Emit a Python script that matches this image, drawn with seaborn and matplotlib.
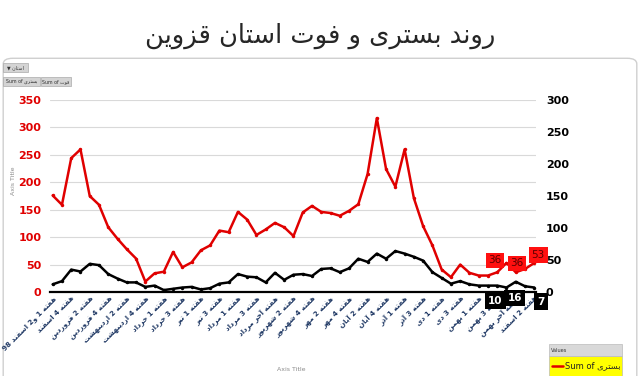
import pandas as pd
import seaborn as sns
import matplotlib.pyplot as plt
from matplotlib.patches import FancyBboxPatch, Rectangle
from matplotlib.lines import Line2D

# every other week carries a label
week_labels = [
    'هفته 1 و2 اسفند 98', 'هفته 4 اسفند', 'هفته 2 فروردین', 'هفته 4 فروردین',
    'هفته 2 اردیبهشت', 'هفته 4 اردیبهشت', 'هفته 1 خرداد', 'هفته 3 خرداد',
    'هفته 1 تیر', 'هفته 3 تیر', 'هفته 1 مرداد', 'هفته 3 مرداد',
    'هفته آخر مرداد', 'هفته 2 شهریور', 'هفته 4 شهریور', 'هفته 2 مهر',
    'هفته 4 مهر', 'هفته 2 آبان', 'هفته 4 آبان', 'هفته 1 آذر',
    'هفته 3 آذر', 'هفته 1 دی', 'هفته 3 دی', 'هفته 1 بهمن',
    'هفته 3 بهمن', 'هفته آخر بهمن', 'هفته 2 اسفند',
]

# بستری (left axis)
hospitalized = [176, 159, 244, 260, 175, 159, 118, 97, 78, 61,
                19, 34, 37, 73, 45, 54, 76, 85, 112, 109,
                146, 132, 104, 114, 126, 118, 102, 145, 157, 146,
                144, 139, 148, 160, 215, 317, 224, 192, 260, 171,
                120, 85, 41, 27, 50, 35, 30, 30, 36, 53,
                36, 42, 53]

# فوت (right axis)
deaths = [12, 17, 35, 32, 44, 42, 28, 21, 15, 15,
          8, 10, 3, 5, 7, 8, 4, 6, 13, 15,
          28, 24, 23, 15, 30, 19, 27, 28, 25, 36,
          37, 31, 37, 52, 47, 60, 52, 64, 60, 55,
          49, 31, 22, 13, 17, 12, 10, 10, 10, 7,
          16, 9, 7]

labelled_points = [48, 50, 52]

# simple persian shaping: matplotlib does not join arabic letters itself
FORMS = {
    'ا': ('\uFE8D', '\uFE8E'), 'آ': ('\uFE81', '\uFE82'),
    'ب': ('\uFE8F', '\uFE90', '\uFE91', '\uFE92'),
    'ت': ('\uFE95', '\uFE96', '\uFE97', '\uFE98'),
    'خ': ('\uFEA5', '\uFEA6', '\uFEA7', '\uFEA8'),
    'د': ('\uFEA9', '\uFEAA'), 'ذ': ('\uFEAB', '\uFEAC'),
    'ر': ('\uFEAD', '\uFEAE'), 'ز': ('\uFEAF', '\uFEB0'),
    'س': ('\uFEB1', '\uFEB2', '\uFEB3', '\uFEB4'),
    'ش': ('\uFEB5', '\uFEB6', '\uFEB7', '\uFEB8'),
    'ف': ('\uFED1', '\uFED2', '\uFED3', '\uFED4'),
    'ق': ('\uFED5', '\uFED6', '\uFED7', '\uFED8'),
    'م': ('\uFEE1', '\uFEE2', '\uFEE3', '\uFEE4'),
    'ن': ('\uFEE5', '\uFEE6', '\uFEE7', '\uFEE8'),
    'ه': ('\uFEE9', '\uFEEA', '\uFEEB', '\uFEEC'),
    'و': ('\uFEED', '\uFEEE'),
    'ی': ('\uFEEF', '\uFEF0', '\uFEF3', '\uFEF4'),
    'ي': ('\uFEEF', '\uFEF0', '\uFEF3', '\uFEF4'),
}


def shape_word(w):
    out = []
    for i, c in enumerate(w):
        f = FORMS.get(c)
        if f is None:
            out.append(c)
            continue
        prev = w[i - 1] if i > 0 else ''
        nxt = w[i + 1] if i + 1 < len(w) else ''
        jp = prev in FORMS and len(FORMS[prev]) == 4
        jn = len(f) == 4 and nxt in FORMS
        if jp and jn:
            out.append(f[3])
        elif jp:
            out.append(f[1])
        elif jn:
            out.append(f[2])
        else:
            out.append(f[0])
    return ''.join(out)


def fa(s):
    vis = []
    for w in reversed(s.split(' ')):
        if any(c in FORMS for c in w):
            vis.append(shape_word(w)[::-1])
        else:
            vis.append(w)
    return ' '.join(vis)


df = pd.DataFrame({'week': range(len(hospitalized)),
                   'hosp': hospitalized, 'death': deaths})

sns.set_style('white')
plt.rcParams['font.family'] = ['DejaVu Sans']

fig = plt.figure(figsize=(6.4, 3.76), dpi=100)

# chart frame (behind the axes)
fig.patches.append(FancyBboxPatch((0.005, -0.05), 0.99, 0.895, transform=fig.transFigure,
                                  boxstyle='round,pad=0,rounding_size=0.015',
                                  fc='white', ec='#cfcfcf', lw=1, zorder=-5))

fig.text(0.5, 0.905, fa('روند بستری و فوت استان قزوین'), ha='center', va='center',
         fontsize=18.5)

ax = fig.add_axes([0.078, 0.2234, 0.7597, 0.5106])
ax.patch.set_alpha(0)
sns.lineplot(data=df, x='week', y='hosp', ax=ax, color='#e00000', lw=1.8,
             marker='o', markersize=2.5, markeredgewidth=0)
ax2 = ax.twinx()
sns.lineplot(data=df, x='week', y='death', ax=ax2, color='black', lw=1.8,
             marker='o', markersize=2.5, markeredgewidth=0)

ax.set_xlim(-0.3, 52.2)
ax.set_ylim(0, 350)
ax.set_yticks(range(0, 351, 50))
ax2.set_ylim(0, 300)
ax2.set_yticks(range(0, 301, 50))
ax.grid(axis='y', color='#d9d9d9', lw=0.8)
ax.grid(axis='x', visible=False)
ax.set_xlabel('')
ax.set_ylabel('')
ax2.set_ylabel('')

ax.set_xticks(range(0, 53, 2))
ax.set_xticklabels([fa(l) for l in week_labels], rotation=45, ha='right',
                   rotation_mode='anchor', fontsize=5.1, fontweight='bold', color='#1f3864')
ax.tick_params(axis='x', length=0, pad=2)
ax.tick_params(axis='y', length=0, labelcolor='#e00000', labelsize=8, pad=6)
ax2.tick_params(axis='y', length=0, labelcolor='black', labelsize=8, pad=7)
plt.setp(ax.get_yticklabels(), fontweight='bold')
plt.setp(ax2.get_yticklabels(), fontweight='bold')

for s in ['top', 'left', 'right']:
    ax.spines[s].set_visible(False)
for s in ax2.spines.values():
    s.set_visible(False)
ax.spines['bottom'].set_color('black')
ax.spines['bottom'].set_linewidth(1.6)

# data labels
red_off = {48: (-2, 12), 50: (1, 9), 52: (4, 8)}
blk_off = {48: (-2, -15), 50: (-1, -16), 52: (7, -14)}
for i in labelled_points:
    ax.annotate(str(hospitalized[i]), (i, hospitalized[i]), xytext=red_off[i],
                textcoords='offset pixels', ha='center', va='center', fontsize=7.5,
                color='#5a0000', bbox=dict(boxstyle='square,pad=0.25', fc='#ff1010', ec='none'))
    ax2.annotate(str(deaths[i]), (i, deaths[i]), xytext=blk_off[i],
                 textcoords='offset pixels', ha='center', va='center', fontsize=7.5,
                 fontweight='bold', color='white',
                 bbox=dict(boxstyle='square,pad=0.3', fc='black', ec='none'))

# axis titles
fig.text(0.021, 0.52, 'Axis Title', rotation=90, ha='center', va='center',
         fontsize=4.5, color='#8a8a8a')
fig.text(0.455, 0.017, 'Axis Title', ha='center', va='center', fontsize=4.5, color='#8a8a8a')

# field buttons
def button(x0, y0, w, h, txt):
    fig.patches.append(Rectangle((x0 / 640, 1 - (y0 + h) / 376), w / 640, h / 376,
                                 transform=fig.transFigure, fc='#d4d4d4', ec='#aaaaaa', lw=0.5))
    fig.text((x0 + w / 2) / 640, 1 - (y0 + h / 2) / 376, txt, ha='center', va='center',
             fontsize=3.4, color='#333333')

button(3, 63, 25, 9, '▼ ' + fa('استان'))
button(3, 77, 37, 9, 'Sum of ' + fa('بستری'))
button(41, 77, 30, 9, 'Sum of ' + fa('فوت'))

# legend box
fig.patches.append(Rectangle((549 / 640, 0), 73 / 640, (376 - 356) / 376,
                             transform=fig.transFigure, fc='#ffff00', ec='#bbbbbb', lw=0.5))
fig.patches.append(Rectangle((549 / 640, (376 - 356) / 376), 73 / 640, 12 / 376,
                             transform=fig.transFigure, fc='#d9d9d9', ec='#bbbbbb', lw=0.5))
fig.text(551 / 640, 1 - 350 / 376, 'Values', fontsize=3.6, va='center', color='#333333')
fig.lines.append(Line2D([552 / 640, 563 / 640], [1 - 366 / 376] * 2, transform=fig.transFigure,
                        color='#e00000', lw=1.8))
fig.text(565 / 640, 1 - 366 / 376, 'Sum of ' + fa('بستری'), fontsize=6, va='center',
         color='#222222')

fig.savefig('out.png', dpi=100)
